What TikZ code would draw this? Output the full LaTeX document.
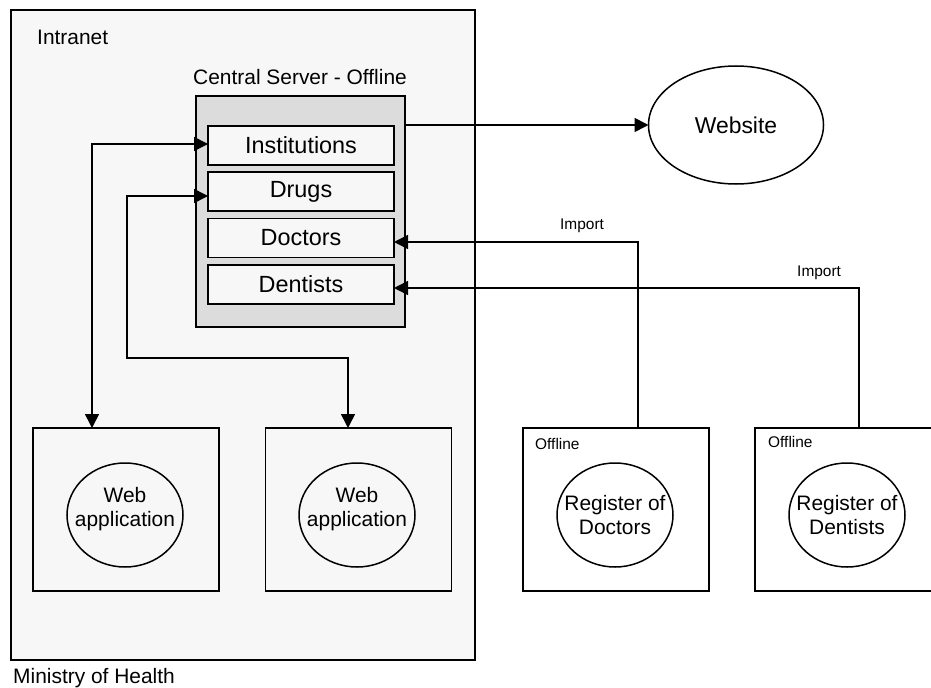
\documentclass[tikz,border=0pt]{standalone}
\usepackage{fontspec}
\setmainfont{Liberation Sans}
\usetikzlibrary{arrows.meta,shapes.geometric}
\definecolor{panelgray}{HTML}{F7F7F7}
\definecolor{servergray}{HTML}{DCDCDC}
\tikzset{
  box/.style={draw,line width=1.5bp,inner sep=0pt,outer sep=0pt},
  tablebox/.style={box,fill=panelgray,minimum width=186bp,minimum height=39bp,
    font=\fontsize{23.5}{26}\selectfont},
  hostbox/.style={box,minimum width=186bp,minimum height=163bp},
  oval/.style={draw,ellipse,line width=1.5bp,inner sep=0pt,outer sep=0pt,
    minimum width=116bp,minimum height=104bp},
  ovaltext/.style={align=center,inner sep=0pt,font=\fontsize{21}{23.5}\selectfont},
  conn/.style={line width=1.6bp},
  big/.style={font=\fontsize{21}{24}\selectfont,inner sep=0pt},
  small/.style={font=\fontsize{15.5}{18}\selectfont,inner sep=0pt},
}
\begin{document}
\begin{tikzpicture}[x=1bp,y=-1bp,>={Triangle[length=14bp,width=14bp]}]
  \useasboundingbox (0,0) rectangle (931,688);
  % Intranet area
  \node[box,fill=panelgray,minimum width=464bp,minimum height=650bp,anchor=north west] (intranet) at (11,10) {};
  \node[big,anchor=base west] (intranetlbl) at (37,45) {Intranet};
  \node[big,anchor=base west] (ministry) at (13,683) {Ministry of Health};
  % Central server with its tables
  \node[big,anchor=base] (serverlbl) at (300,85) {Central Server - Offline};
  \node[box,fill=servergray,minimum width=209bp,minimum height=231bp] (server) at (300.5,211.5) {};
  \node[tablebox] (institutions) at (301,145.5) {Institutions};
  \node[tablebox] (drugs) at (301,191.5) {Drugs};
  \node[tablebox] (doctors) at (301,238) {Doctors};
  \node[tablebox] (dentists) at (301,284.5) {Dentists};
  % Website
  \node[draw,ellipse,line width=1.5bp,inner sep=0pt,outer sep=0pt,minimum width=175bp,minimum height=118bp,
    font=\fontsize{23}{26}\selectfont] (website) at (736,125) {Website};
  % Web applications
  \node[hostbox] (appbox1) at (126,509.5) {};
  \node[oval,label={[ovaltext,yshift=6bp]center:Web\\application}] (app1) at (125,515) {};
  \node[hostbox] (appbox2) at (358.5,509.5) {};
  \node[oval,label={[ovaltext,yshift=6bp]center:Web\\application}] (app2) at (357,515) {};
  % Offline registers
  \node[hostbox,fill=white] (regbox1) at (616,509.5) {};
  \node[small,anchor=base west] (offline1) at (535,449) {Offline};
  \node[oval,fill=white,label={[ovaltext]center:Register of\\Doctors}] (reg1) at (615,515) {};
  \node[hostbox,fill=white] (regbox2) at (848,509.5) {};
  \node[small,anchor=base west] (offline2) at (768,447) {Offline};
  \node[oval,fill=white,label={[ovaltext]center:Register of\\Dentists}] (reg2) at (847,515) {};
  % Connections
  \coordinate (bend) at (127,358);
  \draw[conn,->] (website.west -| server.east) -- (website.west);
  \draw[conn,<->] ([xshift=-34bp]appbox1.north) |- ([yshift=1.5bp]institutions.west);
  \draw[conn,<->] ([yshift=-4.5bp]drugs.west) -| (bend) -| ([xshift=-10.5bp]appbox2.north);
  \draw[conn,->] ([xshift=22bp]regbox1.north) |- ([yshift=-4bp]doctors.east);
  \draw[conn,->] ([xshift=11bp]regbox2.north) |- ([yshift=-3.5bp]dentists.east);
  \node[small,anchor=base west] (import1) at (560,229) {Import};
  \node[small,anchor=base west] (import2) at (797,276) {Import};
\end{tikzpicture}
\end{document}
